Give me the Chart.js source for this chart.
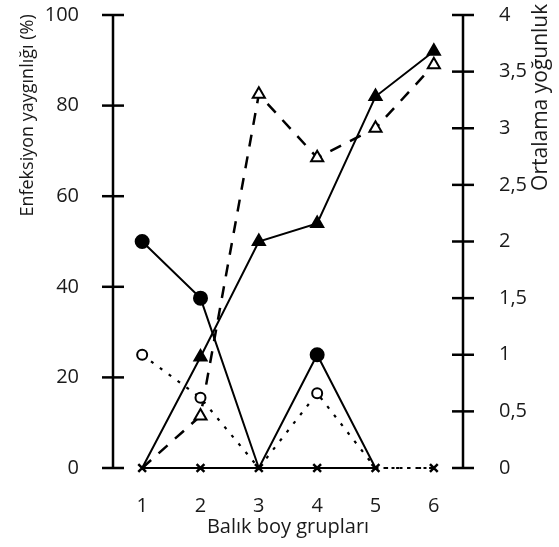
<!DOCTYPE html>
<html>
<head>
<meta charset="utf-8">
<script src="https://cdn.jsdelivr.net/npm/chart.js@4/dist/chart.umd.min.js"></script>
<style>
  html, body { margin: 0; padding: 0; background: #fff; }
  #wrap { width: 559px; height: 547px; }
</style>
</head>
<body>
<div id="wrap"><canvas id="c" width="559" height="547"></canvas></div>
<script>
// ---- data ----
const categories = ['1', '2', '3', '4', '5', '6'];
// left axis: Enfeksiyon yaygınlığı (%)
const prevalenceCircle   = [50, 37.5, 0, 25, 0, null];
const prevalenceTriangle = [0, 24.5, 50, 54, 82, 92];
const prevalenceZero     = [0, 0, 0, 0, 0, 0];
// right axis: Ortalama yoğunluk
const intensityCircle    = [1.0, 0.62, 0, 0.66, 0, 0];
const intensityTriangle  = [0, 0.46, 3.3, 2.74, 3.0, 3.56];
// tick settings
const leftTickStep = 20;
const rightTickStep = 0.5;
const leftTitle = 'Enfeksiyon yaygınlığı (%)';
const rightTitle = 'Ortalama yoğunluk';

const FONT = '"Open Sans", "DejaVu Sans", sans-serif';
const TXT = '#1a1a1a';

const hideZero = (r) => (ctx) => (ctx.raw === 0 ? 0 : r);

function drawUpText(c, text, x, y, size) {
  c.save();
  c.translate(x, y);
  c.rotate(-Math.PI / 2);
  c.fillStyle = TXT;
  c.font = size + 'px ' + FONT;
  c.textAlign = 'left';
  c.textBaseline = 'middle';
  c.fillText(text, 0, 0);
  c.restore();
}

const axisPlugin = {
  id: 'crossAxes',
  afterDraw(chart) {
    const c = chart.ctx;
    const area = chart.chartArea;
    c.save();
    c.strokeStyle = '#000';
    c.lineWidth = 2.5;
    c.lineCap = 'butt';
    [['y', area.left], ['y1', area.right]].forEach(([id, x]) => {
      const s = chart.scales[id];
      c.beginPath();
      c.moveTo(x, s.top);
      c.lineTo(x, s.bottom);
      c.stroke();
      s.ticks.forEach((t, i) => {
        const y = s.getPixelForTick(i);
        c.beginPath();
        c.moveTo(x - 11, y);
        c.lineTo(x + 11, y);
        c.stroke();
      });
    });
    c.restore();
    // axis titles, both reading bottom-to-top, placed high as in the reference
    const s0 = chart.scales.y;
    const s1 = chart.scales.y1;
    drawUpText(c, leftTitle, s0.left + 28, s0.getPixelForValue(55.5), 18);
    drawUpText(c, rightTitle, s1.right - 18, s1.getPixelForValue(2.5) + 6, 21);
  }
};

new Chart(document.getElementById('c'), {
  type: 'line',
  data: {
    labels: categories,
    datasets: [
      {
        data: prevalenceZero,
        yAxisID: 'y',
        borderColor: '#000',
        borderWidth: 2,
        pointStyle: 'crossRot',
        pointRadius: 5.5,
        pointBorderWidth: 2.5,
        pointBorderColor: '#000',
        segment: {
          borderDash: (ctx) => (ctx.p0DataIndex === 4 ? [3, 5] : undefined)
        },
        clip: false,
        tension: 0
      },
      {
        data: prevalenceCircle,
        yAxisID: 'y',
        borderColor: '#000',
        borderWidth: 2,
        pointStyle: 'circle',
        pointRadius: hideZero(6.5),
        pointBackgroundColor: '#000',
        pointBorderColor: '#000',
        clip: false,
        tension: 0
      },
      {
        data: intensityCircle,
        yAxisID: 'y1',
        borderColor: '#000',
        borderWidth: 2.2,
        borderDash: [3, 8],
        pointStyle: 'circle',
        pointRadius: hideZero(5),
        pointBorderWidth: 2,
        pointBackgroundColor: '#fff',
        pointBorderColor: '#000',
        clip: false,
        tension: 0
      },
      {
        data: prevalenceTriangle,
        yAxisID: 'y',
        borderColor: '#000',
        borderWidth: 2,
        pointStyle: 'triangle',
        pointRadius: hideZero(7),
        pointBackgroundColor: '#000',
        pointBorderColor: '#000',
        clip: false,
        tension: 0
      },
      {
        data: intensityTriangle,
        yAxisID: 'y1',
        borderColor: '#000',
        borderWidth: 2.5,
        borderDash: [12, 10],
        pointStyle: 'triangle',
        pointRadius: hideZero(7),
        pointBorderWidth: 2,
        pointBackgroundColor: '#fff',
        pointBorderColor: '#000',
        clip: false,
        tension: 0
      }
    ]
  },
  options: {
    responsive: false,
    animation: false,
    devicePixelRatio: 1,
    layout: { padding: { top: 15, left: 0, right: 0, bottom: 0 } },
    plugins: { legend: { display: false }, tooltip: { enabled: false } },
    scales: {
      x: {
        type: 'category',
        offset: true,
        grid: { display: false },
        border: { display: false },
        ticks: { color: TXT, font: { family: FONT, size: 20 }, padding: 18, maxRotation: 0 },
        title: {
          display: true, text: 'Balık boy grupları', color: TXT,
          font: { family: FONT, size: 20 }, padding: { top: 0, bottom: 8 }
        },
        afterFit: (s) => { s.height = 79; s.paddingLeft = 0; s.paddingRight = 0; }
      },
      y: {
        position: 'left',
        min: 0, max: 100,
        grid: { display: false },
        border: { display: false },
        ticks: { stepSize: leftTickStep, color: TXT, font: { family: FONT, size: 20 }, padding: 26 },
        title: { display: false },
        afterFit: (s) => { s.width = 113; s.paddingTop = 0; s.paddingBottom = 0; }
      },
      y1: {
        position: 'right',
        min: 0, max: 4,
        grid: { display: false },
        border: { display: false },
        ticks: {
          stepSize: rightTickStep, color: TXT, font: { family: FONT, size: 20 }, padding: 28,
          callback: (v) => String(v).replace('.', ',')
        },
        title: { display: false },
        afterFit: (s) => { s.width = 96; s.paddingTop = 0; s.paddingBottom = 0; }
      }
    }
  },
  plugins: [axisPlugin]
});
</script>
</body>
</html>
